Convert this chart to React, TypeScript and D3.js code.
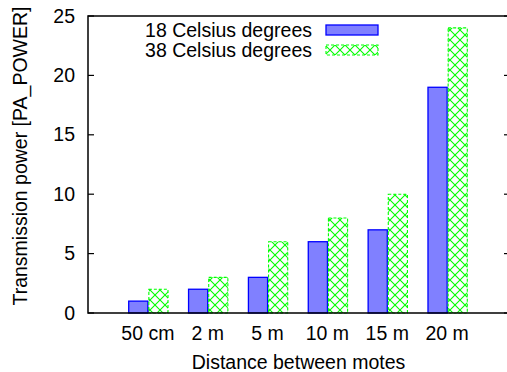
import * as React from 'react';
import * as d3 from 'd3';

const categories = ["50 cm", "2 m", "5 m", "10 m", "15 m", "20 m"];
const series18 = [1, 2, 3, 6, 7, 19];
const series38 = [2, 3, 6, 8, 10, 24];
const seriesNames = ["18 Celsius degrees", "38 Celsius degrees"];
const yTicks = [0, 5, 10, 15, 20, 25];

const FONT = '"Liberation Sans", Arial, Helvetica, sans-serif';

class App extends React.Component<any, any> {
    componentDidMount() {
        this.createChart();
    }

    componentDidUpdate(): void {
        this.createChart();
    }

    createChart() {
        d3.select(".tx-chart svg").remove();
        const width = 507, height = 372;
        const margin = {left: 88, right: 507, top: 16, bottom: 313};

        const xScale = d3.scaleLinear()
            .domain([-1, 6])
            .range([margin.left, margin.right]);
        const yScale = d3.scaleLinear()
            .domain([0, 25])
            .range([margin.bottom, margin.top]);
        const barW = xScale(0.32) - xScale(0);

        const svg = d3.select(".tx-chart")
            .append("svg")
            .attr("width", width)
            .attr("height", height)
            .style("position", "absolute")
            .style("left", "0px")
            .style("top", "0px")
            .style("font-family", FONT)
            .style("font-size", "19.5px");

        const pat = svg.append("defs")
            .append("pattern")
            .attr("id", "xhatch")
            .attr("patternUnits", "userSpaceOnUse")
            .attr("width", 10)
            .attr("height", 10);
        pat.append("path")
            .attr("d", "M0,0L10,10M0,10L10,0")
            .attr("stroke", "#00ff00")
            .attr("stroke-width", 1.1);

        // y ticks (mirrored on right) and labels
        yTicks.forEach(t => {
            const y = yScale(t);
            svg.append("line")
                .attr("x1", margin.left).attr("x2", margin.left + 6)
                .attr("y1", y).attr("y2", y)
                .attr("stroke", "#000").attr("stroke-width", 1.2);
            svg.append("line")
                .attr("x1", margin.right - 3).attr("x2", margin.right)
                .attr("y1", y).attr("y2", y)
                .attr("stroke", "#000").attr("stroke-width", 1.2);
            svg.append("text")
                .attr("x", 75)
                .attr("y", y + 6.5)
                .attr("text-anchor", "end")
                .attr("fill", "#000")
                .text(t);
        });

        // x ticks and labels
        categories.forEach((c, i) => {
            const x = xScale(i);
            svg.append("line")
                .attr("x1", x).attr("x2", x)
                .attr("y1", margin.bottom).attr("y2", margin.bottom - 6)
                .attr("stroke", "#000").attr("stroke-width", 1.2);
            svg.append("text")
                .attr("x", x)
                .attr("y", 339.5)
                .attr("text-anchor", "middle")
                .attr("fill", "#000")
                .text(c);
        });

        const g = svg.append("g");
        g.selectAll(".bar18")
            .data(series18)
            .enter()
            .append("rect")
            .attr("class", "bar18")
            .attr("x", (d, i) => xScale(i) - barW)
            .attr("y", d => yScale(d))
            .attr("width", barW)
            .attr("height", d => yScale(0) - yScale(d))
            .attr("fill", "#8080ff")
            .attr("stroke", "#0000ff")
            .attr("stroke-width", 1.3);

        g.selectAll(".bar38")
            .data(series38)
            .enter()
            .append("rect")
            .attr("class", "bar38")
            .attr("x", (d, i) => xScale(i) + 1)
            .attr("y", d => yScale(d))
            .attr("width", barW)
            .attr("height", d => yScale(0) - yScale(d))
            .attr("fill", "url(#xhatch)")
            .attr("stroke", "#00ff00")
            .attr("stroke-width", 1.1)
            .attr("stroke-dasharray", "3,2");

        // border
        svg.append("path")
            .attr("d", `M${margin.right},${margin.top}H${margin.left}V${margin.bottom}H${margin.right}`)
            .attr("fill", "none")
            .attr("stroke", "#000")
            .attr("stroke-width", 1.5);

        // legend
        const legend = svg.append("g");
        seriesNames.forEach((name, i) => {
            const base = 36.5 + i * 20;
            legend.append("text")
                .attr("x", 312)
                .attr("y", base)
                .attr("text-anchor", "end")
                .attr("fill", "#000")
                .text(name);
            const r = legend.append("rect")
                .attr("x", 326)
                .attr("y", base - 11.5)
                .attr("width", 52)
                .attr("height", 10);
            if (i === 0) {
                r.attr("fill", "#8080ff").attr("stroke", "#0000ff").attr("stroke-width", 1.3);
            } else {
                r.attr("fill", "url(#xhatch)").attr("stroke", "#00ff00")
                    .attr("stroke-width", 1.1).attr("stroke-dasharray", "3,2");
            }
        });

        // axis titles
        svg.append("text")
            .attr("x", 298.5)
            .attr("y", 369)
            .attr("text-anchor", "middle")
            .attr("fill", "#000")
            .text("Distance between motes");
        svg.append("text")
            .attr("transform", "translate(27,156) rotate(-90)")
            .attr("text-anchor", "middle")
            .attr("fill", "#000")
            .text("Transmission power [PA_POWER]");
    }

    render() {
        return (
            <div className="tx-chart">

            </div>
        );
    }
}

export default App
